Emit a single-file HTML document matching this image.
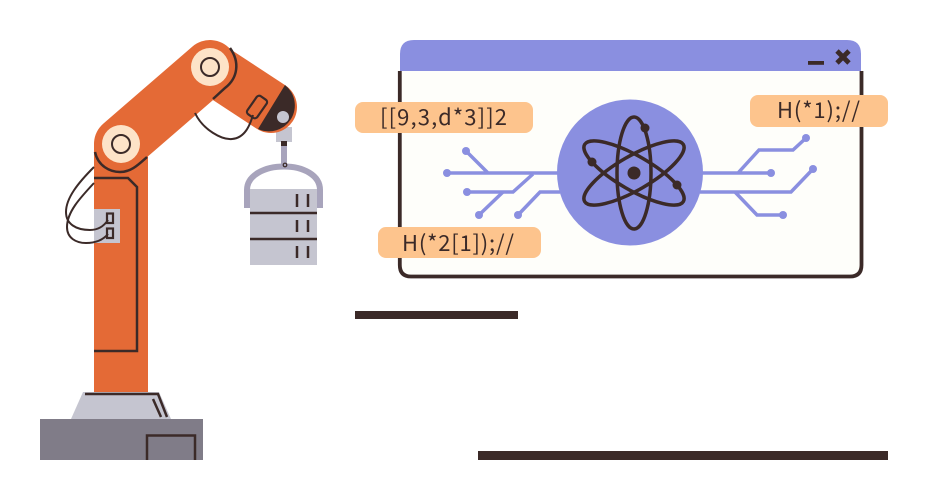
<!DOCTYPE html>
<html>
<head>
<meta charset="utf-8">
<style>
html,body{margin:0;padding:0;background:#fff;width:926px;height:500px;overflow:hidden}
svg{display:block}
text{font-family:"Noto Sans CJK JP","Liberation Sans",sans-serif;font-size:22px;fill:#3b2a28}
</style>
</head>
<body>
<svg width="926" height="500" viewBox="0 0 926 500" xmlns="http://www.w3.org/2000/svg">
<rect width="926" height="500" fill="#fff"/>

<!-- Bars -->
<rect x="355" y="311" width="163" height="8" fill="#3b2a28"/>
<rect x="478" y="451" width="410" height="9" fill="#3b2a28"/>

<!-- Window -->
<path d="M400 71H861V265Q861 276 850 276H411Q400 276 400 265Z" fill="#fefefa"/>
<path d="M399.800 71V265Q399.800 276.500 411 276.500H850Q861.500 276.500 861.500 265V71" fill="none" stroke="#3b2a28" stroke-width="3.800"/>
<path d="M400 71V54Q400 40 414 40H847Q861 40 861 54V71Z" fill="#8a8fe0"/>
<rect x="808" y="61" width="16" height="3.800" fill="#3b2a28"/>
<path d="M837 51L849 63M849 51L837 63" stroke="#3b2a28" stroke-width="4.800" fill="none"/>

<!-- Circuits -->
<g fill="none" stroke="#8a8fe0" stroke-width="3.500">
<path d="M447 173H560M466 151L488 173"/>
<path d="M467 192H513L533 174"/>
<path d="M479 215L503 192"/>
<path d="M518 215L540 192H560"/>
<path d="M700 173H771M738 173L759 150H793L806 138"/>
<path d="M700 192H791L813 169"/>
<path d="M735 192L757 215H783"/>
</g>
<g fill="#8a8fe0">
<circle cx="447" cy="173" r="4"/><circle cx="466" cy="151" r="4"/><circle cx="467" cy="192" r="4"/>
<circle cx="479" cy="215" r="4"/><circle cx="518" cy="215" r="4"/>
<circle cx="771" cy="173" r="4"/><circle cx="806" cy="138" r="4"/><circle cx="813" cy="169" r="4"/><circle cx="783" cy="215" r="4"/>
<circle cx="630" cy="172.500" r="73"/>
</g>

<!-- Atom -->
<g fill="none" stroke="#3b2a28" stroke-width="3.500">
<ellipse cx="634" cy="173" rx="17" ry="56"/>
<ellipse cx="634" cy="173" rx="17" ry="57" transform="rotate(60 634 173)"/>
<ellipse cx="634" cy="173" rx="17" ry="57" transform="rotate(-60 634 173)"/>
</g>
<g fill="#3b2a28">
<circle cx="634" cy="173" r="6.500"/>
<circle cx="645" cy="128" r="4.500"/>
<circle cx="592" cy="162" r="4.500"/>
<circle cx="677" cy="185" r="4.500"/>
</g>

<!-- Labels -->
<g fill="#fdc48d">
<rect x="355" y="102" width="178" height="31" rx="8"/>
<rect x="378" y="227" width="163" height="31" rx="8"/>
<rect x="750" y="95" width="138" height="32" rx="8"/>
</g>
<text x="380" y="125" textLength="127" lengthAdjust="spacing">[[9,3,d*3]]2</text>
<text x="402" y="251" textLength="112" lengthAdjust="spacing">H(*2[1]);//</text>
<text x="777" y="118" textLength="83" lengthAdjust="spacing">H(*1);//</text>

<!-- Base -->
<path d="M83 392H159L171 419H71Z" fill="#c5c5d0"/>
<rect x="40" y="419" width="163" height="41" fill="#807c88"/>
<path d="M147 460V435.500H195V460" fill="none" stroke="#3b2a28" stroke-width="2.500"/>
<path d="M85 394H158L167 417M153 399L161 417" fill="none" stroke="#3b2a28" stroke-width="2.500"/>

<!-- Hanging bucket -->
<rect x="276" y="127" width="16" height="15" fill="#c5c5d0"/>
<rect x="281" y="142" width="6" height="23" fill="#a8a4bc"/>
<rect x="281" y="141" width="6" height="5" fill="#3b2a28"/>
<path d="M247 208V190C247 175 265 166.500 284 166.500C303 166.500 320 175 320 190V208" fill="none" stroke="#a8a4bc" stroke-width="6"/>
<circle cx="285" cy="165" r="1.800" fill="none" stroke="#3b2a28" stroke-width="1.200"/>
<rect x="250" y="189" width="67" height="76" fill="#c5c5d0"/>
<path d="M250 213H317M250 239H317" stroke="#3b2a28" stroke-width="2.500"/>
<path d="M297 194V207M308 194V207M297 220V232M308 220V232M297 246V258M308 246V258" stroke="#3b2a28" stroke-width="2.500"/>

<!-- Column -->
<rect x="94" y="144" width="54" height="248" fill="#e46a36"/>
<path d="M94 178H128L137 187V351H94" fill="none" stroke="#3b2a28" stroke-width="2.500"/>

<!-- Upper arms -->
<path d="M210 67L271 107" stroke="#e46a36" stroke-width="52" stroke-linecap="round" fill="none"/>
<path d="M285 85A26 26 0 0 1 258 129Z" fill="#3b2a28"/>
<path d="M121 144L210 67" stroke="#e46a36" stroke-width="54" stroke-linecap="round" fill="none"/>
<circle cx="283" cy="117" r="6" fill="#c5c5d0"/>

<!-- Joints -->
<circle cx="121" cy="144" r="19" fill="#fde3c8"/>
<circle cx="121" cy="144" r="9" fill="none" stroke="#3b2a28" stroke-width="2"/>
<circle cx="210" cy="67" r="19" fill="#fde3c8"/>
<circle cx="210" cy="67" r="9" fill="none" stroke="#3b2a28" stroke-width="2"/>
<path d="M95 152C98 166 110 172 120 172C131 172 138 165 147 157" fill="none" stroke="#3b2a28" stroke-width="2.500"/>
<path d="M230 48C240 62 238 78 225 88L213 99" fill="none" stroke="#3b2a28" stroke-width="2.500"/>

<!-- Device on forearm -->
<rect x="251" y="96" width="12" height="22" rx="3" fill="none" stroke="#3b2a28" stroke-width="2.200" transform="rotate(35 257 107)"/>
<path d="M195 113C203 130 222 140 232 139C245 138 250 125 253 115" fill="none" stroke="#3b2a28" stroke-width="2"/>

<!-- Side plate -->
<rect x="94" y="209" width="26" height="34" fill="#c5c5d0"/>
<rect x="107" y="213.500" width="6" height="9.500" fill="#c5c5d0" stroke="#3b2a28" stroke-width="2.200"/>
<rect x="107" y="228.500" width="6" height="9.500" fill="#c5c5d0" stroke="#3b2a28" stroke-width="2.200"/>
<path d="M94 167C78 183 66 198 66 212C66 224 76 230 90 230C98 230 104 226 108 220" fill="none" stroke="#3b2a28" stroke-width="2"/>
<path d="M94 183C80 198 67 212 67 227C67 238 76 243 86 243C96 243 103 240 108 234" fill="none" stroke="#3b2a28" stroke-width="2"/>
</svg>
</body>
</html>
